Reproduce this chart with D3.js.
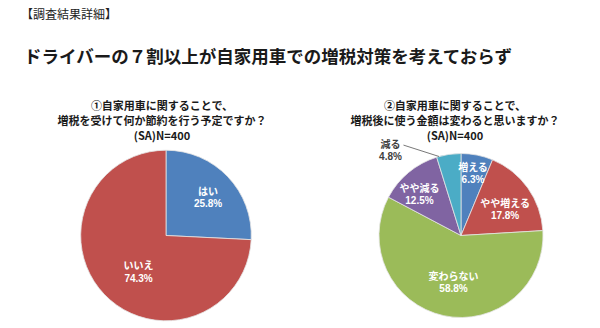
<!DOCTYPE html>
<html><head><meta charset="utf-8">
<script src="https://cdn.jsdelivr.net/npm/d3@7"></script>
<style>
body{margin:0;background:#fff;}
svg{display:block;font-family:"Noto Sans CJK JP","Noto Sans",sans-serif;}
</style></head>
<body>
<svg id="c" width="600" height="328"></svg>
<script>
const headerText = "【調査結果詳細】";
const titleText = "ドライバーの７割以上が自家用車での増税対策を考えておらず";

const chart1Title = ["①自家用車に関することで、", "増税を受けて何か節約を行う予定ですか？", "(SA)N=400"];
const chart1Categories = ["はい", "いいえ"];
const chart1Values = [25.8, 74.3];

const chart2Title = ["②自家用車に関することで、", "増税後に使う金額は変わると思いますか？", "(SA)N=400"];
const chart2Categories = ["増える", "やや増える", "変わらない", "やや減る", "減る"];
const chart2Values = [6.3, 17.8, 58.8, 12.5, 4.8];

// styling / layout (not data)
const colors1 = ["#4F81BD", "#C0504D"];
const colors2 = ["#4F81BD", "#C0504D", "#9BBB59", "#8064A2", "#4BACC6"];
const labelLayout1 = [[0.67, 1], [0.53, -9]];
const labelLayout2 = [[0.78, -0.5], [0.63, 4], [0.57, -3], [0.72, -5], null];

const svg = d3.select("#c");

svg.append("text").attr("x", 21).attr("y", 19)
  .attr("font-size", 12).attr("fill", "#222").text(headerText);
svg.append("text").attr("x", 24).attr("y", 63)
  .attr("font-size", 17.5).attr("font-weight", "bold").attr("fill", "#1a1a1a").text(titleText);

function twoLine(parent, x, y, cat, pct, color) {
  parent.append("text").attr("x", x).attr("y", y - 2).attr("text-anchor", "middle")
    .attr("font-size", 10).attr("font-weight", "bold").attr("fill", color).text(cat);
  parent.append("text").attr("x", x).attr("y", y + 10.5).attr("text-anchor", "middle")
    .attr("font-family", "'Liberation Sans',Arial,sans-serif")
    .attr("font-size", 10).attr("font-weight", "bold").attr("fill", color).text(pct);
}

function drawPie(opts) {
  const {cx, cy, r, tx, titles, cats, vals, colors, layout} = opts;
  const g = svg.append("g");
  const ty = [110, 125, 140];
  titles.forEach((t, i) => {
    g.append("text").attr("x", tx).attr("y", ty[i]).attr("text-anchor", "middle")
      .attr("font-size", 11).attr("font-weight", "bold").attr("fill", "#1a1a1a").text(t);
  });
  const pie = d3.pie().sort(null).value(d => d);
  const arcs = pie(vals);
  const arc = d3.arc().innerRadius(0).outerRadius(r);
  const pg = g.append("g").attr("transform", `translate(${cx},${cy})`);
  pg.selectAll("path").data(arcs).join("path")
    .attr("d", arc).attr("fill", (d, i) => colors[i])
    .attr("stroke", "#e4e4e4").attr("stroke-width", 0.8);
  arcs.forEach((d, i) => {
    const pct = d3.format(".1f")(vals[i]) + "%";
    const L = layout[i];
    if (L) {
      const a = (d.startAngle + d.endAngle) / 2 + L[1] * Math.PI / 180;
      const x = Math.sin(a) * r * L[0], y = -Math.cos(a) * r * L[0];
      twoLine(pg, x, y, cats[i], pct, "#fff");
    } else {
      const a = d.startAngle + 0.1 * (d.endAngle - d.startAngle);
      const ex = Math.sin(a) * r, ey = -Math.cos(a) * r;
      const lx = -r * 0.86, ly = -r * 1.06;
      pg.append("line").attr("x1", lx + 13).attr("y1", ly - 3.5)
        .attr("x2", ex).attr("y2", ey).attr("stroke", "#555").attr("stroke-width", 0.8);
      twoLine(pg, lx, ly + 1, cats[i], pct, "#404040");
    }
  });
}

drawPie({cx: 166, cy: 235.5, r: 85.3, tx: 162, titles: chart1Title,
  cats: chart1Categories, vals: chart1Values, colors: colors1, layout: labelLayout1});
drawPie({cx: 461, cy: 235.5, r: 82, tx: 455, titles: chart2Title,
  cats: chart2Categories, vals: chart2Values, colors: colors2, layout: labelLayout2});
</script>
</body></html>
